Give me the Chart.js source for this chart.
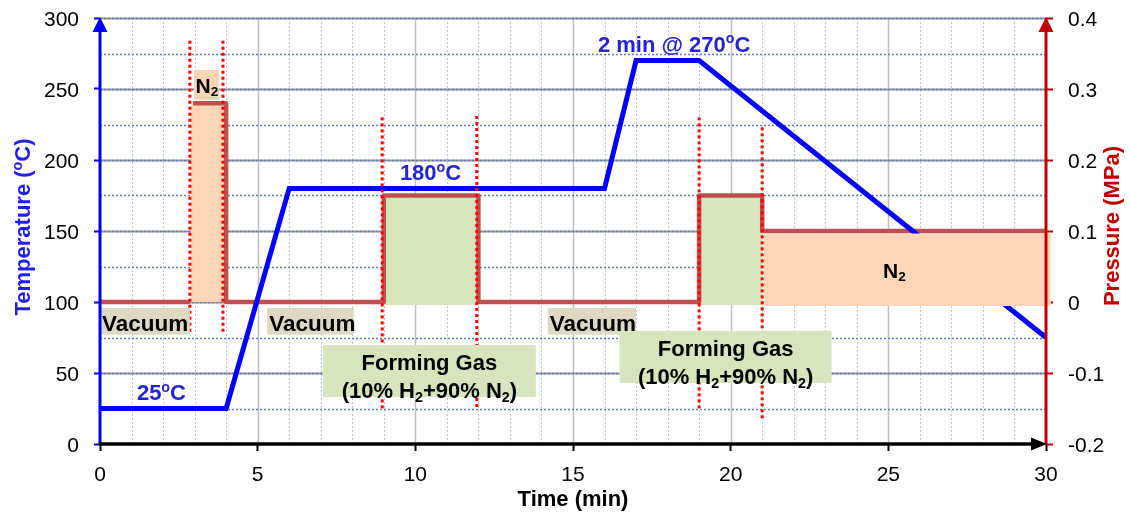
<!DOCTYPE html>
<html><head><meta charset="utf-8">
<script src="https://cdn.jsdelivr.net/npm/chart.js@4"></script>
<style>html,body{margin:0;padding:0;background:#fff}#wrap{width:1130px;height:514px;position:relative}</style>
</head><body><div id="wrap"><canvas id="c"></canvas></div>
<script>
// ---------------- data ----------------
const timeT = [0, 4, 6, 16, 17, 19, 30];
const temperature = [25, 25, 180, 180, 270, 270, 75];
const timeP = [0, 2.85, 2.9, 2.95, 4, 4, 9, 9, 12, 12, 19, 19, 21, 21, 30];
const pressure = [0, 0, null, 0.28, 0.28, 0, 0, 0.15, 0.15, 0, 0, 0.15, 0.15, 0.1, 0.1];
const xTicks = [0, 5, 10, 15, 20, 25, 30];
const tempTicks = [0, 50, 100, 150, 200, 250, 300];
const pressTicks = [-0.2, -0.1, 0, 0.1, 0.2, 0.3, 0.4];
const pressTickLabels = ['-0.2', '-0.1', '0', '0.1', '0.2', '0.3', '0.4'];
// gas phases (time start, time end, pressure top)
const phaseStart = [2.88, 9, 19];
const phaseEnd = [3.96, 12, 21];
const phaseTop = [0.28, 0.15, 0.15];
const phaseKind = ['n2', 'fg', 'fg'];
const holdStart = 21, holdEnd = 30.15, holdTop = 0.1;
// gas switching moments (dotted markers), extent in temperature units
const switchTimes = [2.85, 3.9, 8.95, 11.95, 19, 21];
const switchTop = [284, 284, 230, 231, 230, 223];
const switchBottom = [78, 78, 24, 24, 24, 18];
// label boxes (time range, temperature range)
const vacStart = [0, 5.3, 14.2];
const vacEnd = [2.85, 8.05, 17.0];
const vacHigh = 95.8, vacLow = 77;
const fgStart = [7.07, 16.48];
const fgEnd = [13.82, 23.2];
const fgHigh = [69.7, 79.6];
const fgLow = [33.1, 43];

const FONT = "'Liberation Sans', Arial, sans-serif";
const BLUE_TXT = '#2424d6';

function richWidth(ctx, parts, size) {
  let w = 0;
  for (const p of parts) {
    const s = p[1] ? size * 0.65 : size;
    ctx.font = 'bold ' + s + 'px ' + FONT;
    w += ctx.measureText(p[0]).width;
  }
  return w;
}
function drawRich(ctx, parts, x, y, size, color, align) {
  const w = richWidth(ctx, parts, size);
  let cx = align === 'center' ? x - w / 2 : x;
  ctx.fillStyle = color;
  ctx.textBaseline = 'alphabetic';
  ctx.textAlign = 'left';
  for (const p of parts) {
    const s = p[1] ? size * 0.65 : size;
    ctx.font = 'bold ' + s + 'px ' + FONT;
    let dy = 0;
    if (p[1] === 'sup') dy = -size * 0.38;
    if (p[1] === 'sub') dy = size * 0.17;
    ctx.fillText(p[0], cx, y + dy);
    cx += ctx.measureText(p[0]).width;
  }
}

const bgPlugin = {
  id: 'bg',
  beforeDatasetsDraw(chart) {
    const { ctx, chartArea: a, scales } = chart;
    const x = scales.x, y = scales.y, yp = scales.yP;
    ctx.save();
    // vertical grid
    ctx.lineWidth = 1;
    for (let t = 1; t < 30; t++) {
      const px = Math.round(x.getPixelForValue(t)) + 0.5;
      if (t % 5 === 0) {
        ctx.setLineDash([]); ctx.strokeStyle = '#c0c0c0'; ctx.lineWidth = 1.5;
      } else {
        ctx.setLineDash([2, 2]); ctx.strokeStyle = '#b4c8e6'; ctx.lineWidth = 1;
      }
      ctx.beginPath(); ctx.moveTo(px, a.top); ctx.lineTo(px, a.bottom); ctx.stroke();
    }
    // horizontal grid
    for (let v = 25; v <= 300; v += 25) {
      const py = Math.round(y.getPixelForValue(v)) + 0.5;
      if (v % 50 === 0) {
        ctx.setLineDash([]); ctx.strokeStyle = '#969696'; ctx.lineWidth = 2;
        ctx.beginPath(); ctx.moveTo(a.left, py); ctx.lineTo(a.right, py); ctx.stroke();
      }
      ctx.setLineDash([2, 2]); ctx.strokeStyle = '#5b80c0'; ctx.lineWidth = 1.5;
      ctx.beginPath(); ctx.moveTo(a.left, py); ctx.lineTo(a.right, py); ctx.stroke();
    }
    ctx.setLineDash([]);
    // gas phase fills
    for (let i = 0; i < phaseStart.length; i++) {
      const x0 = x.getPixelForValue(phaseStart[i]), x1 = x.getPixelForValue(phaseEnd[i]);
      const y0 = yp.getPixelForValue(phaseTop[i]) + 1, y1 = yp.getPixelForValue(0) + (phaseKind[i] === 'fg' ? 3 : 0);
      ctx.fillStyle = phaseKind[i] === 'fg' ? '#d7e4bd' : '#fbd5b5';
      ctx.fillRect(x0, y0, x1 - x0, y1 - y0);
    }
    ctx.restore();
  },
  afterDatasetsDraw(chart) {
    const { ctx, scales } = chart;
    const x = scales.x, y = scales.y, yp = scales.yP;
    ctx.save();
    // N2 hold fill (covers the temperature curve)
    {
      const x0 = x.getPixelForValue(holdStart), x1 = x.getPixelForValue(holdEnd);
      const y0 = yp.getPixelForValue(holdTop) + 2.5, y1 = yp.getPixelForValue(0) + 4;
      ctx.fillStyle = '#fbd5b5';
      ctx.fillRect(x0 + 1.5, y0, x1 - x0 - 1.5, y1 - y0);
    }
    // dotted switching markers
    ctx.strokeStyle = '#ff0000'; ctx.lineWidth = 3; ctx.setLineDash([3, 3]);
    for (let i = 0; i < switchTimes.length; i++) {
      const px = x.getPixelForValue(switchTimes[i]);
      ctx.beginPath();
      ctx.moveTo(px, y.getPixelForValue(switchTop[i]));
      ctx.lineTo(px, y.getPixelForValue(switchBottom[i]));
      ctx.stroke();
    }
    ctx.setLineDash([]);
    // vacuum label boxes
    for (let i = 0; i < vacStart.length; i++) {
      const x0 = x.getPixelForValue(vacStart[i]), x1 = x.getPixelForValue(vacEnd[i]);
      const y0 = y.getPixelForValue(vacHigh), y1 = y.getPixelForValue(vacLow);
      ctx.fillStyle = '#ddd9c3';
      ctx.fillRect(x0, y0, x1 - x0, y1 - y0);
      drawRich(ctx, [['Vacuum']], x0 + 2, y0 + 23, 22.5, '#000', 'left');
    }
    // forming gas label boxes
    for (let i = 0; i < fgStart.length; i++) {
      const x0 = x.getPixelForValue(fgStart[i]), x1 = x.getPixelForValue(fgEnd[i]);
      const y0 = y.getPixelForValue(fgHigh[i]), y1 = y.getPixelForValue(fgLow[i]);
      ctx.fillStyle = '#d7e4bd';
      ctx.fillRect(x0, y0, x1 - x0, y1 - y0);
      const cx = (x0 + x1) / 2;
      drawRich(ctx, [['Forming Gas']], cx, y0 + 25, 22, '#000', 'center');
      drawRich(ctx, [['(10% H'], ['2', 'sub'], ['+90% N'], ['2', 'sub'], [')']], cx, y0 + 53, 22, '#000', 'center');
    }
    // N2 small label
    {
      const x0 = x.getPixelForValue(2.98), x1 = x.getPixelForValue(3.77);
      const y0 = y.getPixelForValue(263.4), y1 = y.getPixelForValue(242.3);
      ctx.fillStyle = '#fbd5b5';
      ctx.fillRect(x0, y0, x1 - x0, y1 - y0);
      drawRich(ctx, [['N'], ['2', 'sub']], x0 + 1.5, y.getPixelForValue(247.5), 21, '#000', 'left');
    }
    drawRich(ctx, [['N'], ['2', 'sub']], x.getPixelForValue(24.83), y.getPixelForValue(117), 21, '#000', 'left');
    // temperature notes
    drawRich(ctx, [['25'], ['o', 'sup'], ['C']], x.getPixelForValue(1.17), y.getPixelForValue(31), 22, BLUE_TXT, 'left');
    drawRich(ctx, [['180'], ['o', 'sup'], ['C']], x.getPixelForValue(9.51), y.getPixelForValue(186), 22, BLUE_TXT, 'left');
    drawRich(ctx, [['2 min @ 270'], ['o', 'sup'], ['C']], x.getPixelForValue(15.79), y.getPixelForValue(276.3), 22, BLUE_TXT, 'left');
    ctx.restore();
  },
  afterDraw(chart) {
    const { ctx, chartArea: a } = chart;
    ctx.save();
    // left axis
    ctx.strokeStyle = '#0000ff'; ctx.lineWidth = 3;
    ctx.beginPath(); ctx.moveTo(a.left, a.bottom); ctx.lineTo(a.left, a.top + 8); ctx.stroke();
    ctx.fillStyle = '#0000ff';
    ctx.beginPath(); ctx.moveTo(a.left, a.top - 1); ctx.lineTo(a.left - 7.5, a.top + 14); ctx.lineTo(a.left + 7.5, a.top + 14); ctx.closePath(); ctx.fill();
    // right axis
    ctx.strokeStyle = '#c00000';
    ctx.beginPath(); ctx.moveTo(a.right, a.bottom); ctx.lineTo(a.right, a.top + 8); ctx.stroke();
    ctx.fillStyle = '#c00000';
    ctx.beginPath(); ctx.moveTo(a.right, a.top - 1); ctx.lineTo(a.right - 7.5, a.top + 14); ctx.lineTo(a.right + 7.5, a.top + 14); ctx.closePath(); ctx.fill();
    // x axis
    ctx.strokeStyle = '#000'; ctx.lineWidth = 3.5;
    ctx.beginPath(); ctx.moveTo(a.left - 1, a.bottom); ctx.lineTo(a.right - 10, a.bottom); ctx.stroke();
    ctx.fillStyle = '#000';
    ctx.beginPath(); ctx.moveTo(a.right + 1, a.bottom); ctx.lineTo(a.right - 15, a.bottom - 6.5); ctx.lineTo(a.right - 15, a.bottom + 6.5); ctx.closePath(); ctx.fill();
    // titles
    ctx.save();
    ctx.translate(30, 227); ctx.rotate(-Math.PI / 2);
    drawRich(ctx, [['Temperature ('], ['o', 'sup'], ['C)']], 0, 0, 22, '#1f1fe6', 'center');
    ctx.restore();
    ctx.save();
    ctx.translate(1119, 226); ctx.rotate(-Math.PI / 2);
    drawRich(ctx, [['Pressure (MPa)']], 0, 0, 22, '#c00000', 'center');
    ctx.restore();
    drawRich(ctx, [['Time (min)']], (a.left + a.right) / 2, 506, 22, '#000', 'center');
    ctx.restore();
  }
};

const tickFont = { family: FONT, size: 21 };
const fitY = w => s => { s.width = w; s.paddingTop = 0; s.paddingBottom = 0; };
new Chart(document.getElementById('c'), {
  type: 'line',
  data: {
    datasets: [
      {
        label: 'Temperature',
        data: timeT.map((t, i) => ({ x: t, y: temperature[i] })),
        yAxisID: 'y', borderColor: '#0000ff', borderWidth: 5, pointRadius: 0,
        fill: false, tension: 0, borderJoinStyle: 'miter'
      },
      {
        label: 'Pressure',
        data: timeP.map((t, i) => ({ x: t, y: pressure[i] })),
        yAxisID: 'yP', borderColor: '#c0504d', borderWidth: 4.5, pointRadius: 0,
        fill: false, tension: 0, spanGaps: false, borderJoinStyle: 'round'
      }
    ]
  },
  options: {
    responsive: true, maintainAspectRatio: false, animation: false, devicePixelRatio: 1,
    layout: { padding: { top: 18, left: 0, right: 0, bottom: 0 } },
    plugins: { legend: { display: false }, tooltip: { enabled: false } },
    scales: {
      x: {
        type: 'linear', min: 0, max: 30,
        afterBuildTicks: s => { s.ticks = xTicks.map(v => ({ value: v })); },
        afterFit: s => { s.height = 70; s.paddingLeft = 0; s.paddingRight = 0; },
        ticks: { font: tickFont, color: '#000', padding: 12, maxRotation: 0, autoSkip: false },
        grid: { display: true, drawOnChartArea: false, drawTicks: true, tickLength: 7, tickWidth: 2, tickColor: '#000' },
        border: { display: false }
      },
      y: {
        type: 'linear', position: 'left', min: 0, max: 300,
        afterBuildTicks: s => { s.ticks = tempTicks.map(v => ({ value: v })); },
        afterFit: fitY(100),
        ticks: { font: tickFont, color: '#000', padding: 15, labelOffset: 2 },
        grid: { display: true, drawOnChartArea: false, drawTicks: true, tickLength: 6, tickWidth: 2, tickColor: '#0000ff' },
        border: { display: false }
      },
      yP: {
        type: 'linear', position: 'right', min: -0.2, max: 0.4,
        afterBuildTicks: s => { s.ticks = pressTicks.map(v => ({ value: v })); },
        afterFit: fitY(84),
        ticks: { font: tickFont, color: '#000', padding: 15, labelOffset: 2, callback: (v, i) => pressTickLabels[i] },
        grid: { display: true, drawOnChartArea: false, drawTicks: true, tickLength: 7, tickWidth: 2, tickColor: '#c00000' },
        border: { display: false }
      }
    }
  },
  plugins: [bgPlugin]
});
</script>
</body></html>
